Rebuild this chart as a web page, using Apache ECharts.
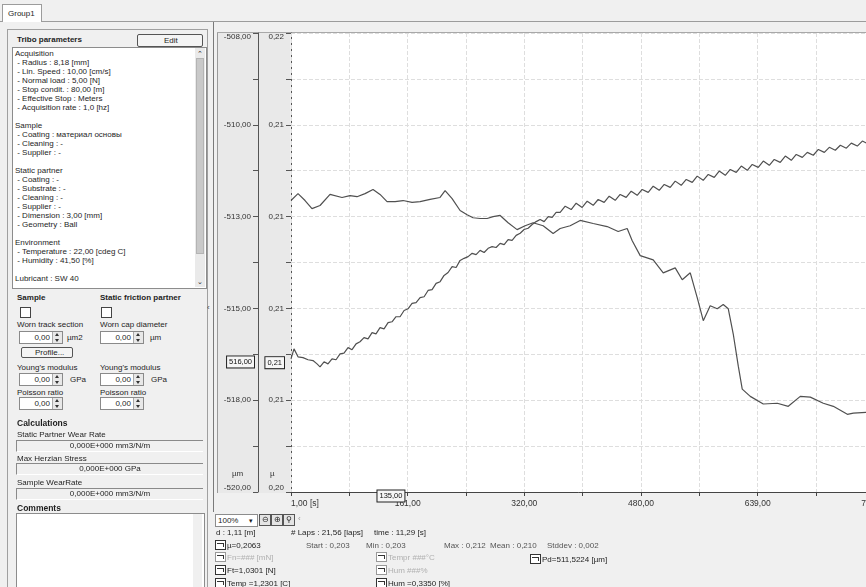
<!DOCTYPE html>
<html>
<head>
<meta charset="utf-8">
<script src="https://cdn.jsdelivr.net/npm/echarts@6/dist/echarts.min.js"></script>
<style>
html,body{margin:0;padding:0;width:866px;height:587px;overflow:hidden;background:#f0f0f0;
  font-family:"Liberation Sans",Arial,sans-serif;font-size:8px;color:#1e1e1e;}
.a{position:absolute;white-space:nowrap;line-height:1;}
.b{font-weight:bold;}
.bg{position:absolute;z-index:0;}
.ui{position:absolute;z-index:2;}
#chart{position:absolute;left:0;top:0;width:866px;height:587px;z-index:1;}
.spin{position:absolute;background:#fff;border:1px solid #8a8a8a;height:11px;}
.spin .v{position:absolute;right:12px;top:2px;}
.spin .arr{position:absolute;right:0;top:0;width:9px;height:11px;border-left:1px solid #aaa;background:#e8e8e8;}
.spin .arr:before{content:"";position:absolute;left:2px;top:1px;border:2px solid transparent;border-bottom:3px solid #333;border-top:0;}
.spin .arr:after{content:"";position:absolute;left:2px;top:7px;border:2px solid transparent;border-top:3px solid #333;border-bottom:0;}
.field{position:absolute;left:16px;width:186px;height:10px;border-top:1px solid #8a8a8a;border-left:1px solid #8a8a8a;border-bottom:1px solid #fff;background:#f0f0f0;}
.field span{position:absolute;left:0;width:186px;text-align:center;top:1px;}
.ico{position:absolute;width:9px;height:8px;border:1px solid #333;background:#fff;}
.ico:after{content:"";position:absolute;left:1px;top:2px;width:6px;height:3px;border-top:1px solid #333;border-right:1px solid #333;}
.gray{color:#b0b0b0;}
.ico.g{border-color:#999;}
</style>
</head>
<body>
<!-- chart frame, axis columns and plot border sit behind the canvas -->
<div class="bg" style="left:213px;top:22px;width:653px;height:490px;background:#f0f0f0;border-left:1px solid #7a7a7a;"></div>
<div class="bg" style="left:217px;top:32px;width:649px;height:1px;background:#a8a8a8;"></div>
<div class="bg" style="left:217px;top:33px;width:41px;height:460px;background:#e9e9e9;border-left:1px solid #9a9a9a;"></div>
<div class="bg" style="left:259px;top:33px;width:31px;height:460px;background:#e9e9e9;"></div>

<div id="chart"></div>

<!-- tab strip -->
<div class="ui" style="left:0;top:0;width:866px;height:21px;background:#f0f0f0;border-bottom:1px solid #9c9c9c;"></div>
<div class="ui" style="left:2px;top:4px;width:38px;height:17px;background:#fff;border:1px solid #9c9c9c;border-bottom:none;"><span class="a" style="left:5px;top:5px;">Group1</span></div>

<!-- parameters panel -->
<div class="ui" style="left:0;top:22px;width:212px;height:565px;background:#f0f0f0;"></div>
<div class="ui" style="left:7px;top:29px;width:199px;height:570px;border:1px solid #a0a0a0;"></div>
<div class="ui a b" style="left:17px;top:36px;">Tribo parameters</div>
<div class="ui" style="left:137px;top:34px;width:64px;height:11px;background:#f4f4f4;border:1px solid #555;border-radius:2px;"><span class="a" style="left:26px;top:2px;">Edit</span></div>
<div class="ui" style="left:12px;top:47px;width:193px;height:240px;background:#fff;border:1px solid #8c8c8c;"></div>
<div class="ui" style="left:195px;top:48px;width:10px;height:239px;background:#eaeaea;"></div>
<div class="ui" style="left:196px;top:58px;width:8px;height:196px;background:#c9c9c9;border:1px solid #b4b4b4;box-sizing:border-box;"></div>
<div class="ui a" style="left:197px;top:50px;font-size:7px;">&#8963;</div>
<div class="ui a" style="left:197px;top:278px;font-size:7px;">&#8964;</div>
<div class="ui" style="left:15px;top:49px;line-height:9px;white-space:pre;font-size:8px;">Acquisition
 - Radius : 8,18 [mm]
 - Lin. Speed : 10,00 [cm/s]
 - Normal load : 5,00 [N]
 - Stop condit. : 80,00 [m]
 - Effective Stop : Meters
 - Acquisition rate : 1,0 [hz]

Sample
 - Coating : материал основы
 - Cleaning : -
 - Supplier : -

Static partner
 - Coating : -
 - Substrate : -
 - Cleaning : -
 - Supplier : -
 - Dimension : 3,00 [mm]
 - Geometry : Ball

Environment
 - Temperature : 22,00 [cdeg C]
 - Humidity : 41,50 [%]

Lubricant : SW 40</div>

<div class="ui a b" style="left:17px;top:294px;">Sample</div>
<div class="ui a b" style="left:100px;top:294px;">Static friction partner</div>
<div class="ui" style="left:20px;top:307px;width:9px;height:9px;background:#fff;border:1px solid #444;"></div>
<div class="ui" style="left:101px;top:307px;width:9px;height:9px;background:#fff;border:1px solid #444;"></div>
<div class="ui a" style="left:17px;top:321px;">Worn track section</div>
<div class="ui a" style="left:100px;top:321px;">Worn cap diameter</div>
<div class="ui spin" style="left:19px;top:331px;width:42px;"><span class="a v">0,00</span><span class="arr"></span></div>
<div class="ui a" style="left:67px;top:334px;">µm2</div>
<div class="ui spin" style="left:100px;top:331px;width:42px;"><span class="a v">0,00</span><span class="arr"></span></div>
<div class="ui a" style="left:150px;top:334px;">µm</div>
<div class="ui" style="left:21px;top:347px;width:50px;height:9px;background:#f4f4f4;border:1px solid #555;border-radius:2px;"><span class="a" style="left:13px;top:1px;">Profile...</span></div>
<div class="ui a" style="left:17px;top:364px;">Young's modulus</div>
<div class="ui a" style="left:100px;top:364px;">Young's modulus</div>
<div class="ui spin" style="left:19px;top:373px;width:42px;"><span class="a v">0,00</span><span class="arr"></span></div>
<div class="ui a" style="left:70px;top:376px;">GPa</div>
<div class="ui spin" style="left:100px;top:373px;width:42px;"><span class="a v">0,00</span><span class="arr"></span></div>
<div class="ui a" style="left:151px;top:376px;">GPa</div>
<div class="ui a" style="left:17px;top:389px;">Poisson ratio</div>
<div class="ui a" style="left:100px;top:389px;">Poisson ratio</div>
<div class="ui spin" style="left:19px;top:397px;width:42px;"><span class="a v">0,00</span><span class="arr"></span></div>
<div class="ui spin" style="left:100px;top:397px;width:42px;"><span class="a v">0,00</span><span class="arr"></span></div>
<div class="ui a b" style="left:17px;top:419px;font-size:8.5px;">Calculations</div>
<div class="ui a" style="left:17px;top:431px;">Static Partner Wear Rate</div>
<div class="ui field" style="top:440px;"><span class="a">0,000E+000 mm3/N/m</span></div>
<div class="ui a" style="left:17px;top:455px;">Max Herzian Stress</div>
<div class="ui field" style="top:463px;"><span class="a">0,000E+000 GPa</span></div>
<div class="ui a" style="left:17px;top:479px;">Sample WearRate</div>
<div class="ui field" style="top:488px;"><span class="a">0,000E+000 mm3/N/m</span></div>
<div class="ui a b" style="left:17px;top:504px;font-size:8.5px;">Comments</div>
<div class="ui" style="left:16px;top:513px;width:187px;height:90px;background:#fff;border:1px solid #8c8c8c;"></div>
<div class="ui" style="left:193px;top:514px;width:9px;height:90px;background:#f0f0f0;"></div>
<div class="ui a" style="left:207px;top:304px;font-size:8px;color:#444;">&#8249;</div>

<!-- zoom toolbar and live readouts -->
<div class="ui" style="left:214px;top:512px;width:652px;height:75px;background:#f0f0f0;"></div>
<div class="ui" style="left:215px;top:514px;width:41px;height:11px;background:#fff;border:1px solid #8c8c8c;"><span class="a" style="left:2px;top:2px;">100%</span><span class="a" style="left:33px;top:2px;font-size:7px;">&#9662;</span></div>
<div class="ui" style="left:259px;top:514px;width:10px;height:10px;background:#e4e4e4;border:1px solid #555;"><span class="a" style="left:2px;top:1px;font-size:8px;">&#8854;</span></div>
<div class="ui" style="left:271px;top:514px;width:10px;height:10px;background:#e4e4e4;border:1px solid #555;"><span class="a" style="left:2px;top:1px;font-size:8px;">&#8853;</span></div>
<div class="ui" style="left:283px;top:514px;width:10px;height:10px;background:#e4e4e4;border:1px solid #555;"><span class="a" style="left:2px;top:1px;font-size:8px;">&#9906;</span></div>
<div class="ui a" style="left:298px;top:515px;color:#999;">&#8249;</div>

<div class="ui a" style="left:216px;top:529px;">d : 1,11 [m]</div>
<div class="ui a" style="left:291px;top:529px;">#&nbsp;Laps : 21,56 [laps]</div>
<div class="ui a" style="left:374px;top:529px;">time : 11,29 [s]</div>

<div class="ui ico" style="left:215px;top:540px;"></div><div class="ui a" style="left:227px;top:542px;">µ=0,2063</div>
<div class="ui a" style="left:306px;top:542px;color:#555;">Start : 0,203</div>
<div class="ui a" style="left:366px;top:542px;color:#555;">Min : 0,203</div>
<div class="ui a" style="left:444px;top:542px;color:#555;">Max : 0,212</div>
<div class="ui a" style="left:490px;top:542px;color:#555;">Mean : 0,210</div>
<div class="ui a" style="left:547px;top:542px;color:#555;">Stddev : 0,002</div>

<div class="ui ico g" style="left:215px;top:552px;"></div><div class="ui a gray" style="left:227px;top:554px;">Fn=### [mN]</div>
<div class="ui ico g" style="left:376px;top:552px;"></div><div class="ui a gray" style="left:388px;top:554px;">Tempr ###°C</div>
<div class="ui ico" style="left:530px;top:554px;"></div><div class="ui a" style="left:542px;top:556px;">Pd=511,5224 [µm]</div>

<div class="ui ico" style="left:215px;top:565px;"></div><div class="ui a" style="left:227px;top:567px;">Ft=1,0301 [N]</div>
<div class="ui ico g" style="left:376px;top:565px;"></div><div class="ui a gray" style="left:388px;top:567px;">Hum ###%</div>

<div class="ui ico" style="left:215px;top:578px;"></div><div class="ui a" style="left:227px;top:580px;">Temp =1,2301 [C]</div>
<div class="ui ico" style="left:376px;top:578px;"></div><div class="ui a" style="left:388px;top:580px;">Hum =0,3350 [%]</div>

<script>
// Time axis ticks (s): every tick carries a grid line, every second one a label
const timeTicks = [1, 80.8, 160.6, 240.4, 320.2, 400, 479.8, 559.6, 639.4, 719.2, 799, 878.8, 958.6];
const timeLabels = [1, 160.6, 320.2, 479.8, 639.4, 799, 958.6];
// Penetration depth axis (µm)
const depthTicks = [-520, -518.8, -517.6, -516.4, -515.2, -514, -512.8, -511.6, -510.4, -509.2, -508];
const depthLabels = [-520, -517.6, -515.2, -512.8, -510.4, -508];
// Friction coefficient axis
const muTicks = [0.2046, 0.2057, 0.2068, 0.2079, 0.2090, 0.2101, 0.2112, 0.2123, 0.2134, 0.2145, 0.2156];
const muLabels = [0.2046, 0.2068, 0.2090, 0.2112, 0.2134, 0.2156];

// Penetration depth Pd [µm] versus time [s]
const depthSeries = [
  [1, -512.38], [10.6, -512.20], [20.2, -512.38], [29.7, -512.59], [40.7, -512.51],
  [54.4, -512.22], [70.8, -512.30], [81.8, -512.25], [91.3, -512.28], [102.3, -512.20],
  [113.2, -512.09], [122.8, -512.22], [132.4, -512.41], [143.4, -512.41], [154.3, -512.38],
  [166.6, -512.43], [177.6, -512.41], [191.3, -512.35], [204.9, -512.30], [211.8, -512.12],
  [221.4, -512.33], [232.3, -512.64], [241.9, -512.75], [250.1, -512.83], [259.7, -512.85],
  [269.3, -512.85], [277.5, -512.80], [287.1, -512.77], [298.0, -512.96], [310.3, -513.14],
  [321.3, -513.04], [332.2, -512.96], [345.9, -513.04], [359.6, -513.24], [369.2, -513.11],
  [382.9, -513.04], [396.6, -512.90], [414.4, -512.98], [433.5, -513.06], [448.6, -513.19],
  [460.9, -513.11], [467.8, -513.43], [478.7, -513.82], [496.5, -513.93], [510.2, -514.27],
  [526.6, -514.14], [536.2, -514.45], [547.2, -514.27], [556.7, -514.92], [565.0, -515.52],
  [574.5, -515.13], [584.1, -515.21], [592.3, -515.10], [599.2, -515.21], [606.0, -515.87],
  [612.9, -516.71], [618.3, -517.31], [629.3, -517.50], [647.1, -517.70], [666.2, -517.68],
  [681.3, -517.76], [697.7, -517.50], [711.4, -517.52], [729.2, -517.68], [742.9, -517.76],
  [762.1, -517.97], [770.3, -517.94], [788.1, -517.92], [807.2, -517.89]
];

// Friction coefficient µ versus time [s]
const muSeries = [
  [1, 0.20779], [5.1, 0.20803], [10.6, 0.20784], [17.4, 0.20782], [24.3, 0.20777],
  [31.1, 0.20775], [36.6, 0.20767], [40.7, 0.20760], [46.2, 0.20772], [51.6, 0.20767],
  [57.1, 0.20779], [62.6, 0.20777], [68.1, 0.20791], [73.5, 0.20793], [79.0, 0.20806],
  [84.5, 0.20801], [90.0, 0.20815], [95.4, 0.20820], [100.9, 0.20830], [106.4, 0.20827],
  [111.9, 0.20842], [117.3, 0.20839], [122.8, 0.20854], [128.3, 0.20851], [133.8, 0.20866],
  [139.2, 0.20868], [144.7, 0.20880], [150.2, 0.20880], [155.7, 0.20895], [161.1, 0.20899],
  [166.6, 0.20912], [172.1, 0.20914], [177.6, 0.20926], [183.1, 0.20928], [188.5, 0.20943],
  [194.0, 0.20945], [199.5, 0.20960], [205.0, 0.20964], [210.4, 0.20979], [215.9, 0.20986],
  [221.4, 0.21000], [226.9, 0.20998], [232.3, 0.21015], [237.8, 0.21020], [243.3, 0.21024],
  [248.8, 0.21032], [254.2, 0.21029], [259.7, 0.21039], [265.2, 0.21034], [270.7, 0.21044],
  [276.1, 0.21048], [281.6, 0.21046], [287.1, 0.21056], [292.6, 0.21053], [298.0, 0.21065],
  [303.5, 0.21063], [309.0, 0.21075], [314.5, 0.21080], [319.9, 0.21089], [325.4, 0.21092],
  [330.9, 0.21101], [336.4, 0.21108], [341.8, 0.21113], [347.3, 0.21108], [352.8, 0.21120],
  [358.3, 0.21118], [363.7, 0.21130], [369.2, 0.21130], [376.1, 0.21145], [384.3, 0.21137],
  [391.1, 0.21152], [399.3, 0.21142], [406.2, 0.21157], [414.4, 0.21147], [421.2, 0.21161],
  [429.4, 0.21154], [436.3, 0.21169], [444.5, 0.21159], [451.3, 0.21173], [459.5, 0.21166],
  [466.4, 0.21181], [474.6, 0.21171], [481.4, 0.21185], [489.7, 0.21178], [496.5, 0.21193],
  [504.7, 0.21183], [511.6, 0.21197], [519.8, 0.21190], [526.6, 0.21205], [534.8, 0.21195],
  [541.7, 0.21209], [549.9, 0.21202], [556.7, 0.21217], [564.9, 0.21207], [571.8, 0.21221],
  [580.0, 0.21214], [586.8, 0.21229], [595.1, 0.21219], [601.9, 0.21233], [610.1, 0.21226],
  [617.0, 0.21241], [625.2, 0.21231], [632.0, 0.21245], [640.2, 0.21238], [647.1, 0.21253],
  [655.3, 0.21243], [662.1, 0.21257], [670.3, 0.21250], [677.2, 0.21265], [685.4, 0.21255],
  [692.2, 0.21269], [700.5, 0.21262], [707.3, 0.21274], [715.5, 0.21267], [722.4, 0.21281],
  [730.6, 0.21274], [737.4, 0.21286], [745.6, 0.21279], [752.5, 0.21291], [760.7, 0.21284],
  [767.5, 0.21296], [775.7, 0.21289], [782.6, 0.21301], [790.8, 0.21294], [797.6, 0.21303]
];

// Cursor readouts shown on the axes
const cursorTime = 135;
const cursorDepth = -516.6;
const cursorMu = 0.2077;
const cursorTexts = { time: '135,00', depth: '516,00', mu: '0,21' };

const fmtRound = v => Math.round(v).toFixed(2).replace('.', ',');
const fmtMu = v => v.toFixed(2).replace('.', ',');

const chart = echarts.init(document.getElementById('chart'), null, { renderer: 'canvas' });
const axisFont = { fontFamily: 'Liberation Sans, Arial, sans-serif', fontSize: 8, color: '#333' };
const gridLine = { show: true, lineStyle: { color: '#dedede', width: 1, type: [4, 2] } };

chart.setOption({
  animation: false,
  grid: { left: 291, top: 33, width: 700, height: 459, show: true, backgroundColor: '#ffffff', borderWidth: 0,
    containLabel: false, outerBoundsMode: 'none' },
  xAxis: {
    type: 'value', min: 1, max: 958.6, position: 'bottom', z: 1,
    axisLine: { lineStyle: { color: '#444', width: 1 } },
    axisTick: { customValues: timeTicks, length: 4, lineStyle: { color: '#444' } },
    axisLabel: Object.assign({}, axisFont, { fontSize: 8.5, customValues: timeLabels, margin: 7, alignMinLabel: 'left',
      formatter: v => v === timeLabels[0] ? fmtRound(v) + ' [s]' : fmtRound(v) }),
    splitLine: gridLine
  },
  yAxis: [
    {
      type: 'value', min: -520, max: -508, position: 'left', offset: 33,
      axisLine: { show: true, lineStyle: { color: '#555', width: 1 } },
      axisTick: { show: true, customValues: depthTicks, length: 5, lineStyle: { color: '#555' } },
      axisLabel: Object.assign({ customValues: depthLabels, margin: 7, formatter: fmtRound,
        verticalAlignMinLabel: 'bottom', verticalAlignMaxLabel: 'top' }, axisFont),
      splitLine: { show: false }
    },
    {
      type: 'value', min: 0.2046, max: 0.2156, position: 'left', offset: 0,
      axisLine: { show: true, lineStyle: { color: '#555', width: 1 } },
      axisTick: { show: true, customValues: muTicks, length: 5, lineStyle: { color: '#555' } },
      axisLabel: Object.assign({ customValues: muLabels, margin: 7, formatter: fmtMu,
        verticalAlignMinLabel: 'bottom', verticalAlignMaxLabel: 'top' }, axisFont),
      splitLine: gridLine
    }
  ],
  series: [
    { name: 'Pd', type: 'line', yAxisIndex: 0, data: depthSeries, showSymbol: false, clip: true,
      lineStyle: { color: '#505050', width: 1.2 } },
    { name: 'µ', type: 'line', yAxisIndex: 1, data: muSeries, showSymbol: false, clip: true,
      lineStyle: { color: '#505050', width: 1.2 } }
  ]
});

// Readout boxes and unit captions placed from the axis scales
const yDepth = chart.convertToPixel({ yAxisIndex: 0 }, cursorDepth);
const yMu = chart.convertToPixel({ yAxisIndex: 1 }, cursorMu);
const xTime = chart.convertToPixel({ xAxisIndex: 0 }, cursorTime);
const boxStyle = (text, x, y, align) => ({
  type: 'text', x: x, y: y, z: 100, zlevel: 1,
  style: { text: text, fill: '#111', font: '7.5px Liberation Sans, Arial', align: align, verticalAlign: 'middle',
    backgroundColor: '#f6f6f6', borderColor: '#222', borderWidth: 1, padding: [2, 2, 1, 2] }
});
chart.setOption({
  graphic: [
    boxStyle(cursorTexts.depth, 254, yDepth, 'right'),
    boxStyle(cursorTexts.mu, 284, yMu, 'right'),
    boxStyle(cursorTexts.time, xTime + 2, 496, 'center'),
    { type: 'text', x: 232, y: 470, style: { text: 'µm', fill: '#333', font: '8px Liberation Sans, Arial' } },
    { type: 'text', x: 270, y: 470, style: { text: 'µ', fill: '#333', font: '8px Liberation Sans, Arial' } }
  ]
});
</script>
</body>
</html>
